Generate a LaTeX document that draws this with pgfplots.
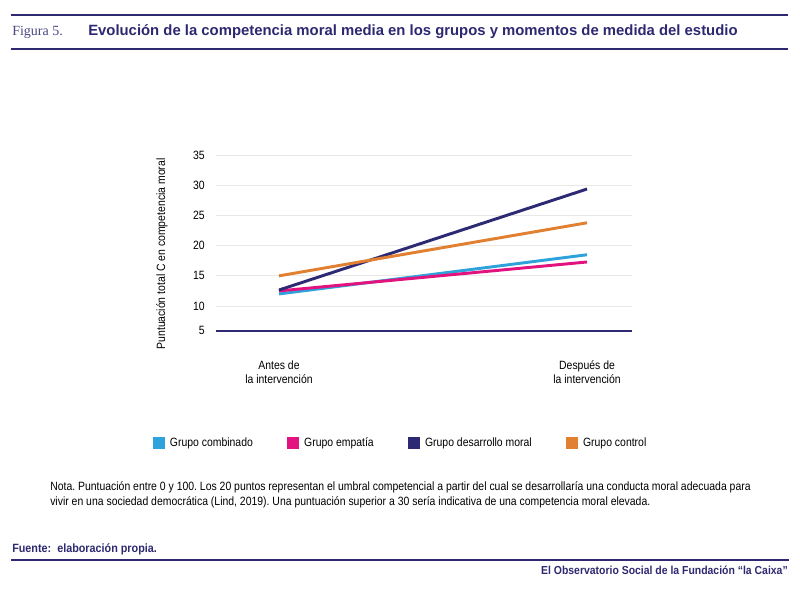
\documentclass[border=0pt]{standalone}
\usepackage{pgfplots}
\pgfplotsset{compat=1.18}
\usepackage{fontspec}
\setmainfont{Liberation Sans}[FakeStretch=0.87]
\newfontfamily\titlefont{Liberation Sans}
\newfontfamily\footfont{Liberation Sans}[FakeStretch=0.9]
\newfontfamily\figfont{Liberation Serif}
\frenchspacing
\definecolor{navy}{HTML}{2D2973}
\definecolor{tnavy}{HTML}{2D2870}
\definecolor{cblue}{HTML}{2EA2DA}
\definecolor{cpink}{HTML}{E2127E}
\definecolor{corange}{HTML}{E08030}
\definecolor{gridc}{HTML}{E8E8E8}
\definecolor{figc}{HTML}{4A4780}
\begin{document}
\begin{tikzpicture}
\path[use as bounding box] (0,0) rectangle (600pt,443.25pt);
% header
\draw[tnavy, line width=1.9pt] (8.25pt,432pt) -- (591pt,432pt);
\draw[tnavy, line width=1.9pt] (8.25pt,406.5pt) -- (591pt,406.5pt);
\node[anchor=west, inner sep=0pt, text=figc, font=\figfont\fontsize{10.5pt}{12pt}\selectfont] at (9pt,419.25pt) {Figura 5.};
\node[anchor=west, inner sep=0pt, text=tnavy, font=\titlefont\bfseries\fontsize{11.15pt}{13pt}\selectfont] at (66pt,419.25pt) {Evolución de la competencia moral media en los grupos y momentos de medida del estudio};
% axis
\begin{axis}[
  at={(162pt,195.2pt)}, anchor=south west,
  scale only axis, width=312pt, height=131.6pt,
  xmin=-0.2045, xmax=1.146, ymin=5.9, ymax=35,
  axis line style={draw=none},
  major tick length=0pt,
  ytick={5.9,10,15,20,25,30,35},
  yticklabels={5,10,15,20,25,30,35},
  ymajorgrids, grid style={gridc, line width=0.6pt},
  xtick={0,1},
  xticklabels={Antes de\\la intervención, Después de\\la intervención},
  tick label style={font=\fontsize{9pt}{10.5pt}\selectfont, text=black},
  yticklabel style={anchor=east, inner sep=0pt, xshift=-8.25pt},
  xticklabel style={align=center, anchor=north, inner sep=0pt, yshift=-22.5pt},
  legend columns=4,
  legend style={at={(0.4475,-0.64)}, anchor=center, draw=none, fill=none,
    font=\fontsize{9pt}{10pt}\selectfont,
    nodes={inner xsep=4pt, inner ysep=1pt},
    /tikz/every even column/.append style={column sep=21.5pt}},
  legend image code/.code={\fill[#1] (0pt,-3.4pt) rectangle (6.75pt,3.4pt);},
  clip=false,
]
\draw[navy, line width=1.6pt] (rel axis cs:0,0) -- (rel axis cs:1,0);
\addplot[cblue, line width=2.2pt] coordinates {(0,12.0) (1,18.5)};
\addlegendentry{Grupo combinado}
\addplot[cpink, line width=2.2pt] coordinates {(0,12.5) (1,17.3)};
\addlegendentry{Grupo empatía}
\addplot[navy, line width=2.2pt] coordinates {(0,12.65) (1,29.4)};
\addlegendentry{Grupo desarrollo moral}
\addplot[corange, line width=2.2pt] coordinates {(0,15.0) (1,23.8)};
\addlegendentry{Grupo control}
\end{axis}
\node[rotate=90, inner sep=0pt, font=\fontsize{9pt}{10pt}\selectfont] at (121.5pt,252.75pt) {Puntuación total C en competencia moral};
% note
\node[anchor=base west, inner sep=0pt, font=\fontsize{9pt}{10pt}\selectfont] at (37.5pt,75.4pt) {Nota. Puntuación entre 0 y 100. Los 20 puntos representan el umbral competencial a partir del cual se desarrollaría una conducta moral adecuada para};
\node[anchor=base west, inner sep=0pt, font=\fontsize{9pt}{10pt}\selectfont] at (37.5pt,64.1pt) {vivir en una sociedad democrática (Lind, 2019). Una puntuación superior a 30 sería indicativa de una competencia moral elevada.};
% footer
\node[anchor=base west, inner sep=0pt, text=tnavy, font=\footfont\bfseries\fontsize{9pt}{10pt}\selectfont] at (9pt,28.9pt) {Fuente:\ \ elaboración propia.};
\draw[tnavy, line width=1.9pt] (8.25pt,23.25pt) -- (591.75pt,23.25pt);
\node[anchor=east, inner sep=0pt, text=tnavy, font=\footfont\bfseries\fontsize{8.7pt}{10pt}\selectfont] at (591pt,15.2pt) {El Observatorio Social de la Fundación “la Caixa”};
\end{tikzpicture}
\end{document}
